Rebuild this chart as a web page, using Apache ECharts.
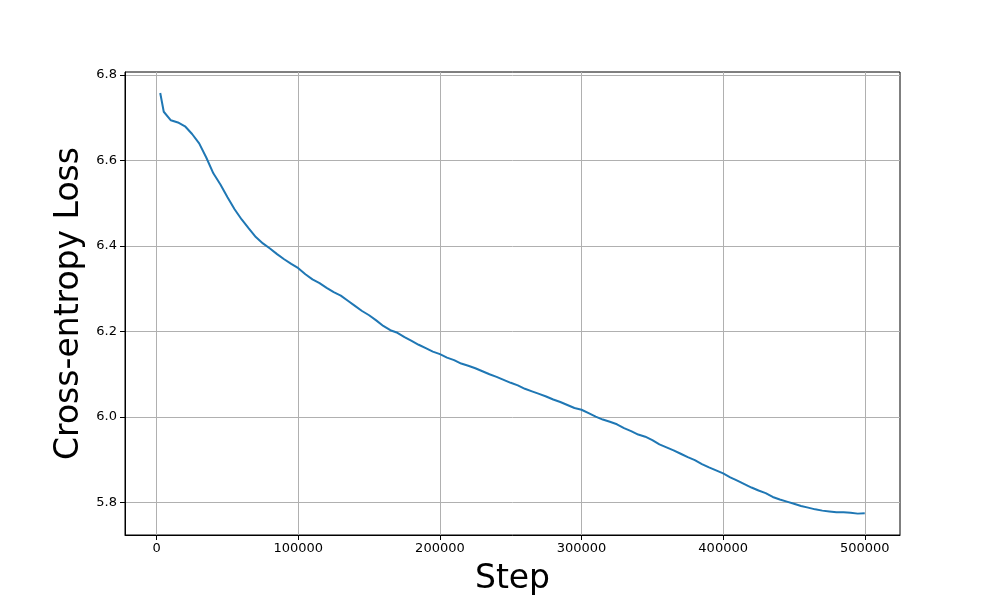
<!DOCTYPE html>
<html>
<head>
<meta charset="utf-8">
<script src="https://cdn.jsdelivr.net/npm/echarts@6/dist/echarts.min.js"></script>
<style>html,body{margin:0;padding:0;background:#fff}#c{width:1000px;height:600px}</style>
</head>
<body>
<div id="c"></div>
<script>
const steps = [2500,5000,10000,15000,20000,25000,30000,35000,40000,45000,50000,55000,60000,65000,70000,75000,80000,85000,90000,95000,
100000,105000,110000,115000,120000,125000,130000,135000,140000,145000,150000,155000,160000,165000,170000,175000,180000,185000,190000,195000,
200000,205000,210000,215000,220000,225000,230000,235000,240000,245000,250000,255000,260000,265000,270000,275000,280000,285000,290000,295000,
300000,305000,310000,315000,320000,325000,330000,335000,340000,345000,350000,355000,360000,365000,370000,375000,380000,385000,390000,395000,
400000,405000,410000,415000,420000,425000,430000,435000,440000,445000,450000,455000,460000,465000,470000,475000,480000,485000,490000,495000,500000];
const loss = [6.758,6.714,6.694,6.689,6.680,6.662,6.640,6.607,6.570,6.544,6.514,6.486,6.462,6.441,6.421,6.406,6.394,6.381,6.369,6.358,
6.348,6.334,6.322,6.313,6.302,6.292,6.284,6.272,6.260,6.248,6.238,6.226,6.213,6.203,6.197,6.187,6.178,6.169,6.161,6.153,
6.147,6.139,6.133,6.125,6.120,6.114,6.107,6.100,6.094,6.087,6.080,6.074,6.066,6.060,6.054,6.048,6.041,6.035,6.028,6.021,
6.017,6.009,6.001,5.994,5.989,5.983,5.974,5.967,5.959,5.954,5.946,5.936,5.929,5.922,5.914,5.906,5.899,5.890,5.882,5.875,
5.868,5.859,5.851,5.843,5.835,5.828,5.822,5.813,5.807,5.802,5.797,5.792,5.788,5.784,5.781,5.779,5.777,5.777,5.776,5.774,5.775];
const xTicks = [0,100000,200000,300000,400000,500000];
const yTicks = [5.8,6.0,6.2,6.4,6.6,6.8];

const data = steps.map((s,i)=>[s,loss[i]]);
const font = 'DejaVu Sans';
const chart = echarts.init(document.getElementById('c'), null, {renderer:'canvas'});
chart.setOption({
  animation:false,
  backgroundColor:'#fff',
  grid:{left:125,right:100,top:72,bottom:65,show:true,borderColor:'#000',borderWidth:1,backgroundColor:'transparent',outerBoundsMode:'none',containLabel:false},
  xAxis:{
    type:'value', min:-22375, max:524875,
    name:'Step', nameLocation:'middle', nameGap:28,
    nameTextStyle:{fontFamily:font,fontSize:33,color:'#000'},
    axisLine:{show:true,onZero:false,lineStyle:{color:'#000',width:1}},
    axisTick:{show:true,length:5,customValues:xTicks,lineStyle:{color:'#000'}},
    axisLabel:{customValues:xTicks,fontFamily:font,fontSize:13,color:'#000',margin:7,formatter:v=>String(v)},
    splitLine:{show:true,lineStyle:{color:'#b0b0b0',width:1}}
  },
  yAxis:{
    type:'value', min:5.724, max:6.807,
    name:'Cross-entropy Loss', nameLocation:'middle', nameGap:38, nameRotate:90,
    nameTextStyle:{fontFamily:font,fontSize:33,color:'#000'},
    axisLine:{show:true,onZero:false,lineStyle:{color:'#000',width:1}},
    axisTick:{show:true,length:5,customValues:yTicks,lineStyle:{color:'#000'}},
    axisLabel:{customValues:yTicks,fontFamily:font,fontSize:13,color:'#000',margin:8,formatter:v=>v.toFixed(1)},
    splitLine:{show:true,lineStyle:{color:'#b0b0b0',width:1}}
  },
  series:[{type:'line',data:data,showSymbol:false,lineStyle:{color:'#1f77b4',width:2},itemStyle:{color:'#1f77b4'}}]
});
</script>
</body>
</html>
